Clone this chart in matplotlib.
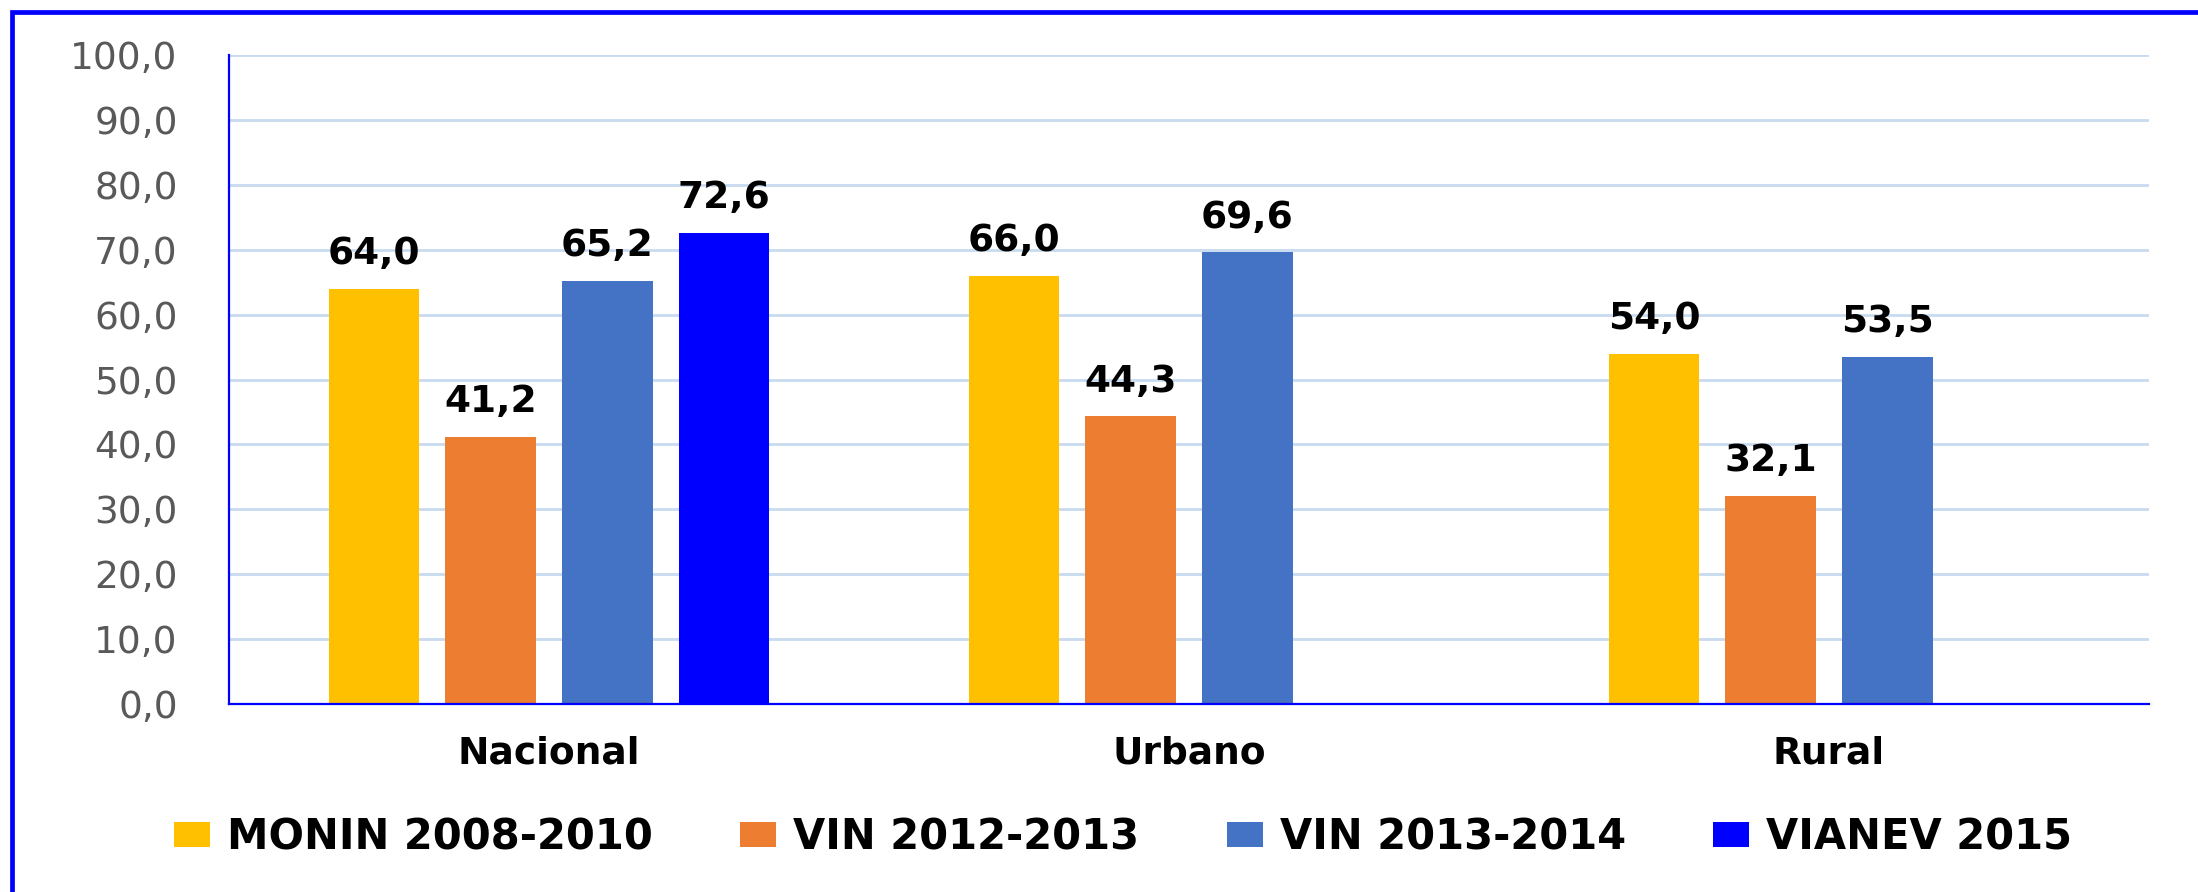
import numpy as np
import matplotlib
matplotlib.use("Agg")
import matplotlib.pyplot as plt
from matplotlib.patches import Rectangle
from matplotlib.ticker import FuncFormatter, MultipleLocator

categories = ["Nacional", "Urbano", "Rural"]
series_names = ["MONIN 2008-2010", "VIN 2012-2013", "VIN 2013-2014", "VIANEV 2015"]
monin_2008_2010 = [64.0, 66.0, 54.0]
vin_2012_2013 = [41.2, 44.3, 32.1]
vin_2013_2014 = [65.2, 69.6, 53.5]
vianev_2015 = [72.6, np.nan, np.nan]
colors = ["#FFC000", "#ED7D31", "#4472C4", "#0000FF"]

series_values = [monin_2008_2010, vin_2012_2013, vin_2013_2014, vianev_2015]

plt.rcParams["font.family"] = ["DejaVu Sans"]

fig = plt.figure(figsize=(21.98, 8.92), dpi=100)
ax = fig.add_axes([0.1042, 0.2108, 0.8735, 0.7275])

x = np.arange(len(categories))
slot = 0.1823
width = 0.142
n = len(series_values)

fmt = lambda v: f"{v:.1f}".replace(".", ",")

for j, (name, vals, c) in enumerate(zip(series_names, series_values, colors)):
    pos = x + (j - (n - 1) / 2) * slot
    bars = ax.bar(pos, vals, width=width, color=c, label=name, zorder=3)
    labels = ["" if np.isnan(v) else fmt(v) for v in vals]
    ax.bar_label(bars, labels=labels, padding=12, fontsize=27,
                 fontweight="bold", color="black")

ax.set_xlim(-0.5, 2.5)
ax.set_ylim(0, 100)
ax.yaxis.set_major_locator(MultipleLocator(10))
ax.yaxis.set_major_formatter(FuncFormatter(lambda v, p: fmt(v)))
ax.grid(axis="y", color="#C9DBF0", linewidth=2.0, zorder=0)
ax.set_axisbelow(True)

ax.set_xticks(x)
ax.set_xticklabels(categories, fontsize=27, fontweight="bold", color="black")
ax.tick_params(axis="x", length=0, pad=23)
ax.tick_params(axis="y", length=0, pad=37, labelsize=27, labelcolor="#595959")

for s in ["top", "right"]:
    ax.spines[s].set_visible(False)
for s in ["left", "bottom"]:
    ax.spines[s].set_color("#0000FF")
    ax.spines[s].set_linewidth(1.6)
    ax.spines[s].set_zorder(4)

handles, labs = ax.get_legend_handles_labels()
leg = fig.legend(handles, labs, loc="center", bbox_to_anchor=(0.511, 1 - 837 / 892),
                 ncol=4, frameon=False,
                 prop={"family": "DejaVu Sans", "weight": "bold", "size": 30},
                 handlelength=0.86, handleheight=0.55, handletextpad=0.41,
                 columnspacing=2.1)

# outer frame (clipped at right and bottom in the reference)
frame = Rectangle((12 / 2198, -0.05), 1.2, 1 - 11.5 / 892 + 0.05,
                  transform=fig.transFigure, fill=False,
                  edgecolor="#0000FF", linewidth=3.4, zorder=10)
fig.patches.append(frame)

fig.savefig("out.png", dpi=100, facecolor="white")
